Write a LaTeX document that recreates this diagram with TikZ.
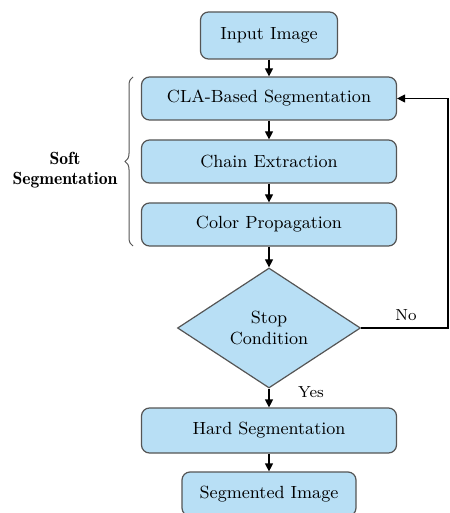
\documentclass[tikz,border=0pt]{standalone}
\usetikzlibrary{shapes.geometric,arrows.meta,decorations.pathreplacing}
\definecolor{boxfill}{RGB}{184,223,245}
\definecolor{boxline}{RGB}{85,85,85}
\begin{document}
\begin{tikzpicture}[x=0.5pt,y=-0.5pt,
  stepbox/.style={draw=boxline,fill=boxfill,rounded corners=4pt,line width=0.6pt,
    minimum height=21.5pt,inner sep=2pt,font=\fontsize{8.8}{10.5}\selectfont},
  decision/.style={diamond,draw=boxline,fill=boxfill,line width=0.6pt,
    minimum width=91.5pt,minimum height=60pt,inner sep=0pt,align=center,
    font=\fontsize{8.8}{10.5}\selectfont},
  flow/.style={-{Triangle[length=4pt,width=4pt]},line width=0.6pt},
  small/.style={font=\fontsize{8}{10}\selectfont}]
\useasboundingbox (0,0) rectangle (449,513);
%boxes
\node[stepbox,minimum width=68.5pt,minimum height=23.5pt] (input) at (269,35.5) {Input Image};
\node[stepbox,minimum width=127.5pt] (cla) at (269,98.5) {CLA-Based Segmentation};
\node[stepbox,minimum width=127.5pt] (chain) at (269,161.5) {Chain Extraction};
\node[stepbox,minimum width=127.5pt] (color) at (269,224.5) {Color Propagation};
\node[decision] (stop) at (269,328) {Stop\\Condition};
\node[stepbox,minimum width=127.5pt,minimum height=22.5pt] (hard) at (269,430.5) {Hard Segmentation};
\node[stepbox,minimum width=87pt,minimum height=22pt] (output) at (269,494) {Segmented Image};
\coordinate (loopb) at (448,328);
\coordinate (loopt) at (448,98.5);
%arrows
\draw[flow] (input) -- (cla);
\draw[flow] (cla) -- (chain);
\draw[flow] (chain) -- (color);
\draw[flow] (color) -- (stop);
\draw[flow] (stop) -- (hard);
\draw[flow] (hard) -- (output);
\draw[flow] (stop.east) -- (loopb) -- (loopt) -- (cla.east);
%labels
\node[small] (no) at (406,315) {No};
\node[small] (yes) at (311,392) {Yes};
%brace
\coordinate (bracebot) at (133,246);
\coordinate (bracetop) at (133,77);
\draw[boxline,line width=0.5pt,decorate,decoration={brace,amplitude=4pt}] (bracebot) -- (bracetop);
\node[align=center,font=\fontsize{8.8}{10}\selectfont\fontseries{b}\selectfont] (soft) at (65,170) {Soft\\Segmentation};
\end{tikzpicture}
\end{document}
